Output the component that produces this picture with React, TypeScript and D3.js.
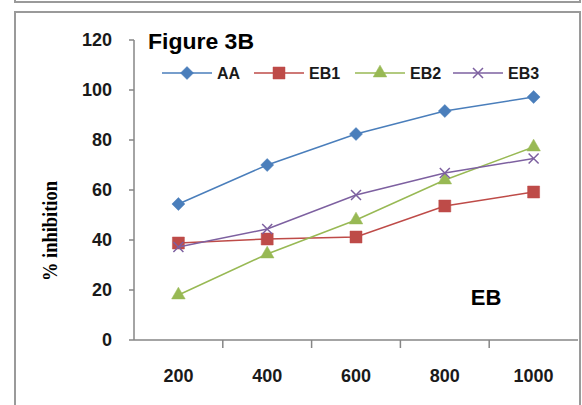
import React from 'react'
import * as d3 from 'd3'

const categories = ['200', '400', '600', '800', '1000']
const yTicks = [0, 20, 40, 60, 80, 100, 120]
const seriesNames = ['AA', 'EB1', 'EB2', 'EB3']
const aaValues = [54.4, 70, 82.4, 91.6, 97.2]
const eb1Values = [38.8, 40.4, 41.2, 53.6, 59.2]
const eb2Values = [18, 34.4, 48, 64, 77.2]
const eb3Values = [37.2, 44.4, 58, 66.8, 72.6]
const colors = ['#4a7ebb', '#be4b48', '#98b954', '#7d60a0']
const markers = ['diamond', 'square', 'triangle', 'x']

const W = 582
const H = 405
const left = 134
const right = 578
const top = 40
const bottom = 340

const fontSans = '"Liberation Sans", Arial, sans-serif'

function markerPath(kind: string): string {
    if (kind === 'diamond') return 'M0,-6.5L6.5,0L0,6.5L-6.5,0Z'
    if (kind === 'square') return 'M-6,-6H6V6H-6Z'
    if (kind === 'triangle') return d3.symbol().type(d3.symbolTriangle).size(80)() || ''
    return 'M-5,-5L5,5M-5,5L5,-5'
}

function Marker({ kind, x, y, color }: { kind: string, x: number, y: number, color: string }) {
    const isX = kind === 'x'
    return (
        <path
            d={markerPath(kind)}
            transform={`translate(${x},${y})`}
            fill={isX ? 'none' : color}
            stroke={color}
            strokeWidth={isX ? 1.5 : 0.5}
        />
    )
}

export default function App() {
    const allValues = [aaValues, eb1Values, eb2Values, eb3Values]

    const xScale = d3.scaleBand<string>().domain(categories).range([left, right])
    const yScale = d3.scaleLinear().domain([0, 120]).range([bottom, top])

    const line = d3.line<number>()
        .x((d, i) => (xScale(categories[i]) || 0) + xScale.bandwidth() / 2)
        .y(d => yScale(d))

    const bandEdges = categories.map(c => xScale(c) || 0).concat([right])

    // legend entry starts (line start x)
    const legendX = [162, 254, 355, 453]
    const legendY = 73

    return (
        <svg width={W} height={H} style={{ position: 'absolute', left: 0, top: 0 }}>
            <rect x={0} y={0} width={W} height={H} fill="#fff" />
            {/* remains of the upper frame */}
            <path d="M15,-5V2H580V-5" fill="none" stroke="#9a9a9a" strokeWidth={2} />
            {/* chart frame */}
            <path d={`M15,${H + 5}V12H580V${H + 5}`} fill="none" stroke="#9a9a9a" strokeWidth={2} />

            {/* y axis */}
            <line x1={left} x2={left} y1={top} y2={bottom} stroke="#868686" strokeWidth={1.5} />
            {yTicks.map(t => (
                <g key={t}>
                    <line x1={left - 5} x2={left} y1={yScale(t)} y2={yScale(t)} stroke="#868686" strokeWidth={1.5} />
                    <text x={112} y={yScale(t)} dy="0.35em" textAnchor="end"
                        fontFamily={fontSans} fontWeight="bold" fontSize={18} fill="#1a1a1a">{t}</text>
                </g>
            ))}

            {/* x axis */}
            <line x1={left} x2={right} y1={bottom} y2={bottom} stroke="#868686" strokeWidth={1.5} />
            {bandEdges.slice(1, -1).map((e, i) => (
                <line key={i} x1={e} x2={e} y1={bottom} y2={bottom + 8} stroke="#868686" strokeWidth={1.5} />
            ))}
            {categories.map(c => (
                <text key={c} x={(xScale(c) || 0) + xScale.bandwidth() / 2} y={376} dy="0.35em" textAnchor="middle"
                    fontFamily={fontSans} fontWeight="bold" fontSize={18} fill="#1a1a1a">{c}</text>
            ))}

            {/* y label */}
            <text transform="translate(50,231) rotate(-90)" textAnchor="middle" dy="0.35em"
                fontFamily="'Liberation Serif', 'DejaVu Serif', serif" fontWeight="bold" fontSize={20}
                textLength={100} lengthAdjust="spacingAndGlyphs"
                fill="#000">% inhibition</text>

            {/* title */}
            <text x={148} y={49} fontFamily={fontSans} fontWeight="bold" fontSize={22}
                textLength={106} lengthAdjust="spacingAndGlyphs" fill="#000">Figure 3B</text>

            {/* series */}
            {allValues.map((vals, si) => (
                <g key={seriesNames[si]}>
                    <path d={line(vals) || ''} fill="none" stroke={colors[si]} strokeWidth={1.5} />
                    {vals.map((v, i) => (
                        <Marker key={i} kind={markers[si]} color={colors[si]}
                            x={(xScale(categories[i]) || 0) + xScale.bandwidth() / 2} y={yScale(v)} />
                    ))}
                </g>
            ))}

            {/* legend */}
            {seriesNames.map((name, si) => (
                <g key={name}>
                    <line x1={legendX[si]} x2={legendX[si] + 50} y1={legendY} y2={legendY} stroke={colors[si]} strokeWidth={1.5} />
                    <Marker kind={markers[si]} color={colors[si]} x={legendX[si] + 25} y={legendY} />
                    <text x={legendX[si] + 55} y={legendY} dy="0.36em" fontFamily={fontSans} fontWeight="bold"
                        fontSize={16} fill="#1a1a1a">{name}</text>
                </g>
            ))}

            {/* annotation */}
            <text x={486} y={305} textAnchor="middle" fontFamily={fontSans} fontWeight="bold" fontSize={22} fill="#000">EB</text>
        </svg>
    )
}
